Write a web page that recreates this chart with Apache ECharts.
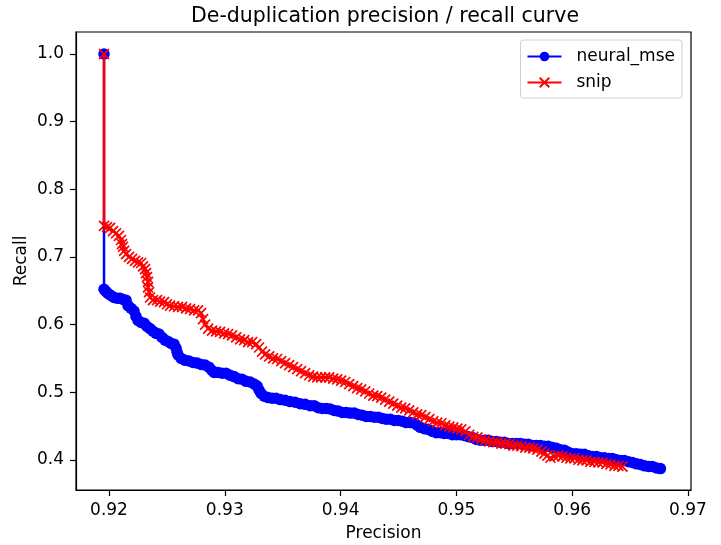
<!DOCTYPE html>
<html>
<head>
<meta charset="utf-8">
<script src="https://cdn.jsdelivr.net/npm/echarts@6/dist/echarts.min.js"></script>
<style>html,body{margin:0;padding:0;background:#fff;}#c{width:721px;height:545px;}</style>
</head>
<body>
<div id="c"></div>
<script>
const xTicks = [0.92, 0.93, 0.94, 0.95, 0.96, 0.97];
const yTicks = [0.4, 0.5, 0.6, 0.7, 0.8, 0.9, 1.0];

const neuralPrecision = [0.91957,0.91957,0.91974,0.91991,0.92017,0.92043,0.92069,0.92095,0.92121,0.92147,0.92164,0.92190,0.92216,0.92233,0.92251,0.92277,0.92303,0.92328,0.92354,0.92380,0.92406,0.92432,0.92458,0.92484,0.92510,0.92536,0.92562,0.92579,0.92588,0.92596,0.92622,0.92657,0.92691,0.92726,0.92761,0.92795,0.92830,0.92864,0.92890,0.92908,0.92942,0.92977,0.93011,0.93046,0.93080,0.93115,0.93149,0.93184,0.93219,0.93253,0.93279,0.93296,0.93314,0.93340,0.93374,0.93409,0.93443,0.93478,0.93521,0.93564,0.93608,0.93651,0.93694,0.93737,0.93772,0.93806,0.93841,0.93876,0.93910,0.93945,0.93979,0.94014,0.94048,0.94083,0.94118,0.94152,0.94187,0.94221,0.94256,0.94290,0.94325,0.94360,0.94394,0.94429,0.94463,0.94498,0.94532,0.94567,0.94602,0.94636,0.94662,0.94688,0.94723,0.94757,0.94792,0.94826,0.94861,0.94895,0.94930,0.94965,0.94999,0.95034,0.95068,0.95103,0.95137,0.95172,0.95207,0.95241,0.95276,0.95310,0.95345,0.95379,0.95414,0.95449,0.95483,0.95518,0.95552,0.95587,0.95621,0.95656,0.95691,0.95725,0.95760,0.95794,0.95829,0.95863,0.95898,0.95933,0.95967,0.96002,0.96036,0.96071,0.96105,0.96140,0.96175,0.96209,0.96244,0.96278,0.96313,0.96347,0.96382,0.96417,0.96451,0.96486,0.96520,0.96555,0.96589,0.96624,0.96659,0.96693,0.96728,0.96762];
const neuralRecall = [1.0,0.652,0.649,0.646,0.643,0.640,0.639,0.639,0.637,0.636,0.628,0.624,0.620,0.612,0.606,0.603,0.602,0.597,0.594,0.590,0.587,0.586,0.581,0.577,0.575,0.572,0.571,0.565,0.559,0.555,0.550,0.547,0.546,0.544,0.543,0.541,0.540,0.537,0.532,0.529,0.529,0.528,0.528,0.525,0.523,0.520,0.519,0.516,0.515,0.512,0.509,0.503,0.498,0.494,0.492,0.491,0.491,0.489,0.488,0.486,0.485,0.483,0.482,0.480,0.480,0.477,0.476,0.476,0.475,0.473,0.472,0.470,0.470,0.469,0.469,0.467,0.466,0.464,0.464,0.463,0.463,0.461,0.460,0.460,0.458,0.458,0.457,0.455,0.455,0.454,0.451,0.448,0.446,0.445,0.442,0.440,0.440,0.439,0.439,0.437,0.437,0.437,0.436,0.434,0.433,0.430,0.429,0.429,0.429,0.427,0.427,0.426,0.426,0.424,0.424,0.424,0.424,0.423,0.423,0.421,0.421,0.421,0.420,0.420,0.418,0.417,0.415,0.414,0.411,0.409,0.409,0.408,0.408,0.406,0.405,0.405,0.403,0.403,0.402,0.402,0.400,0.399,0.399,0.397,0.396,0.394,0.393,0.391,0.390,0.390,0.388,0.387];

const snipPrecision = [0.91957,0.91957,0.91983,0.92009,0.92035,0.92061,0.92086,0.92104,0.92112,0.92121,0.92130,0.92147,0.92173,0.92199,0.92225,0.92251,0.92277,0.92294,0.92311,0.92320,0.92328,0.92337,0.92337,0.92346,0.92354,0.92380,0.92415,0.92441,0.92475,0.92501,0.92527,0.92562,0.92596,0.92631,0.92666,0.92700,0.92735,0.92769,0.92795,0.92812,0.92830,0.92856,0.92890,0.92925,0.92959,0.92994,0.93029,0.93063,0.93098,0.93132,0.93167,0.93201,0.93236,0.93271,0.93296,0.93322,0.93348,0.93383,0.93417,0.93452,0.93487,0.93521,0.93556,0.93590,0.93625,0.93659,0.93694,0.93729,0.93763,0.93798,0.93832,0.93867,0.93901,0.93936,0.93971,0.94005,0.94040,0.94074,0.94109,0.94143,0.94178,0.94213,0.94247,0.94282,0.94316,0.94351,0.94385,0.94420,0.94455,0.94489,0.94524,0.94558,0.94593,0.94627,0.94662,0.94697,0.94731,0.94766,0.94800,0.94835,0.94870,0.94904,0.94939,0.94973,0.95008,0.95042,0.95077,0.95111,0.95146,0.95181,0.95215,0.95250,0.95284,0.95319,0.95353,0.95388,0.95423,0.95457,0.95492,0.95526,0.95561,0.95595,0.95630,0.95664,0.95699,0.95734,0.95760,0.95786,0.95812,0.95846,0.95881,0.95915,0.95950,0.95984,0.96019,0.96054,0.96088,0.96123,0.96157,0.96192,0.96226,0.96261,0.96296,0.96330,0.96365,0.96399,0.96434];
const snipRecall = [1.0,0.746,0.744,0.743,0.738,0.735,0.731,0.725,0.719,0.715,0.709,0.704,0.700,0.697,0.694,0.692,0.691,0.686,0.682,0.676,0.670,0.663,0.655,0.648,0.640,0.636,0.636,0.634,0.633,0.630,0.628,0.627,0.626,0.626,0.624,0.623,0.621,0.621,0.617,0.608,0.600,0.594,0.591,0.590,0.589,0.587,0.586,0.584,0.581,0.578,0.577,0.574,0.574,0.571,0.566,0.560,0.556,0.553,0.550,0.549,0.546,0.543,0.540,0.537,0.534,0.531,0.528,0.525,0.523,0.522,0.522,0.522,0.522,0.520,0.519,0.517,0.515,0.512,0.509,0.506,0.504,0.501,0.498,0.495,0.494,0.492,0.489,0.486,0.483,0.480,0.477,0.476,0.473,0.470,0.467,0.466,0.463,0.460,0.457,0.455,0.454,0.451,0.449,0.448,0.446,0.445,0.442,0.437,0.434,0.433,0.430,0.429,0.427,0.426,0.426,0.424,0.424,0.423,0.421,0.421,0.420,0.418,0.418,0.417,0.415,0.412,0.409,0.406,0.403,0.405,0.406,0.405,0.403,0.402,0.402,0.400,0.399,0.399,0.397,0.397,0.396,0.396,0.394,0.393,0.391,0.391,0.390];

const FONT = 'DejaVu Sans';
const chart = echarts.init(document.getElementById('c'), null, {renderer: 'canvas'});
const pairs = (xs, ys) => xs.map((x, i) => [x, ys[i]]);
const crossPath = 'path://M0,0L10,10M10,0L0,10';

chart.setOption({
  animation: false,
  backgroundColor: '#fff',
  title: {
    text: 'De-duplication precision / recall curve',
    left: 186, top: 1,
    textStyle: {fontFamily: FONT, fontSize: 20.5, fontWeight: 'normal', color: '#000'}
  },
  grid: {left: 76, right: 30, top: 32, bottom: 55, containLabel: false, outerBoundsMode: 'none',
    show: true, borderColor: '#000', borderWidth: 1.2, backgroundColor: 'transparent'},
  legend: {
    orient: 'vertical', right: 39, top: 40,
    padding: [8, 7, 7, 6], itemGap: 9,
    itemWidth: 34, itemHeight: 12,
    backgroundColor: '#fff',
    borderColor: '#d0d0d0', borderWidth: 1, borderRadius: 3,
    textStyle: {fontFamily: FONT, fontSize: 17, color: '#000', padding: [0, 0, 0, 10]},
    data: ['neural_mse', 'snip']
  },
  xAxis: {
    type: 'value', min: 0.91715, max: 0.97026,
    name: 'Precision', nameLocation: 'middle', nameGap: 35, nameMoveOverlap: false,
    nameTextStyle: {fontFamily: FONT, fontSize: 17, color: '#000'},
    axisLine: {show: true, onZero: false, lineStyle: {color: '#000', width: 1.2}},
    axisTick: {show: true, inside: false, length: 6, lineStyle: {color: '#000', width: 1.2}, customValues: xTicks},
    axisLabel: {fontFamily: FONT, fontSize: 17, color: '#000', margin: 12, customValues: xTicks,
      formatter: v => v.toFixed(2)},
    splitLine: {show: false}
  },
  yAxis: {
    type: 'value', min: 0.3553, max: 1.0326,
    name: 'Recall', nameLocation: 'middle', nameGap: 46, nameRotate: 90, nameMoveOverlap: false,
    nameTextStyle: {fontFamily: FONT, fontSize: 17, color: '#000'},
    axisLine: {show: true, onZero: false, lineStyle: {color: '#000', width: 1.2}},
    axisTick: {show: true, inside: false, length: 6, lineStyle: {color: '#000', width: 1.2}, customValues: yTicks},
    axisLabel: {fontFamily: FONT, fontSize: 17, color: '#000', margin: 12, customValues: yTicks,
      formatter: v => v.toFixed(1)},
    splitLine: {show: false}
  },
  series: [
    {
      name: 'neural_mse', type: 'line',
      data: pairs(neuralPrecision, neuralRecall),
      symbol: 'circle', symbolSize: 11.5, showAllSymbol: true,
      lineStyle: {color: '#0000ff', width: 2.5},
      itemStyle: {color: '#0000ff'},
      z: 2
    },
    {
      name: 'snip', type: 'line',
      data: pairs(snipPrecision, snipRecall),
      symbol: crossPath, symbolSize: 10, showAllSymbol: true,
      lineStyle: {color: '#ff0000', width: 2.5},
      itemStyle: {color: '#ff0000', borderColor: '#ff0000', borderWidth: 1.7},
      z: 3
    }
  ]
});
</script>
</body>
</html>
